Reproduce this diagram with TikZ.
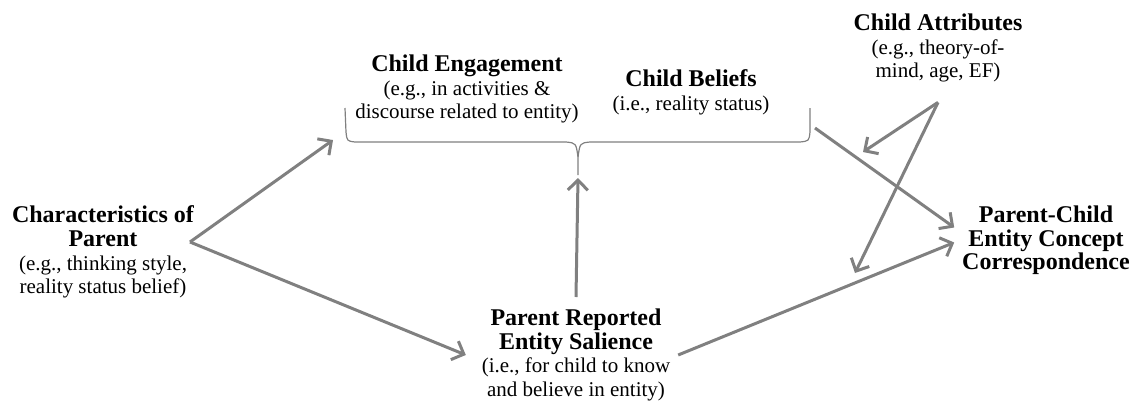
\documentclass[tikz,border=0pt]{standalone}
\usepackage{fontspec}
\setmainfont{Liberation Serif}
\usetikzlibrary{arrows.meta}
\definecolor{mygray}{HTML}{808080}
\newcommand{\hd}[1]{{\fontsize{12}{12}\selectfont\bfseries #1}}

\begin{document}
\begin{tikzpicture}[x=0.5pt,y=-0.5pt]
	\tikzset{% This is the style settings for boxes and arrows
		factornode/.style={align=center,anchor=north,inner sep=0pt,outer sep=4pt,font=\fontsize{10.5}{11.8}\selectfont},
		grayarrow/.style={draw=mygray,line width=1.5pt,-{Straight Barb[length=5pt,width=10pt]}},
		bracepath/.style={draw=mygray,line width=0.6pt}}
	\useasboundingbox (0,0) rectangle (1136,402);
	\node[factornode] (charpar) at (103,198) {\hd{Characteristics of}\\\hd{Parent}\\(e.g., thinking style,\\reality status belief)};
	\node[factornode] (engage) at (467,47) {\hd{Child Engagement}\\(e.g., in activities \&\\discourse related to entity)};
	\node[factornode] (beliefs) at (691,62) {\hd{Child Beliefs}\\(i.e., reality status)};
	\node[factornode] (attrib) at (938,6) {\hd{Child Attributes}\\(e.g., theory-of-\\mind, age, EF)};
	\node[factornode] (salience) at (576,301) {\hd{Parent Reported}\\\hd{Entity Salience}\\(i.e., for child to know\\and believe in entity)};
	\node[factornode] (corresp) at (1046,198) {\hd{Parent-Child}\\\hd{Entity Concept}\\\hd{Correspondence}};

	% brace under the two child boxes
	\draw[bracepath] (345,108) -- (346,132) .. controls (347,141) .. (355,142) -- (566,142)
		.. controls (576,143) .. (578,157) -- (578,175);
	\draw[bracepath] (578,157) .. controls (580,143) .. (590,142) -- (800,142)
		.. controls (809,141) .. (810,132) -- (810,108);

	\coordinate (fork) at (190,242);
	\coordinate (braceL) at (333,140);
	\coordinate (braceTip) at (578,178);
	\coordinate (braceR) at (815,128);
	\coordinate (modA) at (863,152);
	\coordinate (modB) at (855,273);

	\draw[grayarrow] (fork) -- (braceL);
	\draw[grayarrow] (fork) -- ([xshift=-4pt]salience.west);
	\draw[grayarrow] ([yshift=2pt]salience.north) -- (braceTip);
	\draw[grayarrow] (salience.east) -- ([yshift=-1pt]corresp.west);
	\draw[grayarrow] (braceR) -- ([yshift=6.5pt]corresp.west);
	\draw[grayarrow] ([yshift=-6pt]attrib.south) -- (modA);
	\draw[grayarrow] ([yshift=-6pt]attrib.south) -- (modB);
\end{tikzpicture}
\end{document}
